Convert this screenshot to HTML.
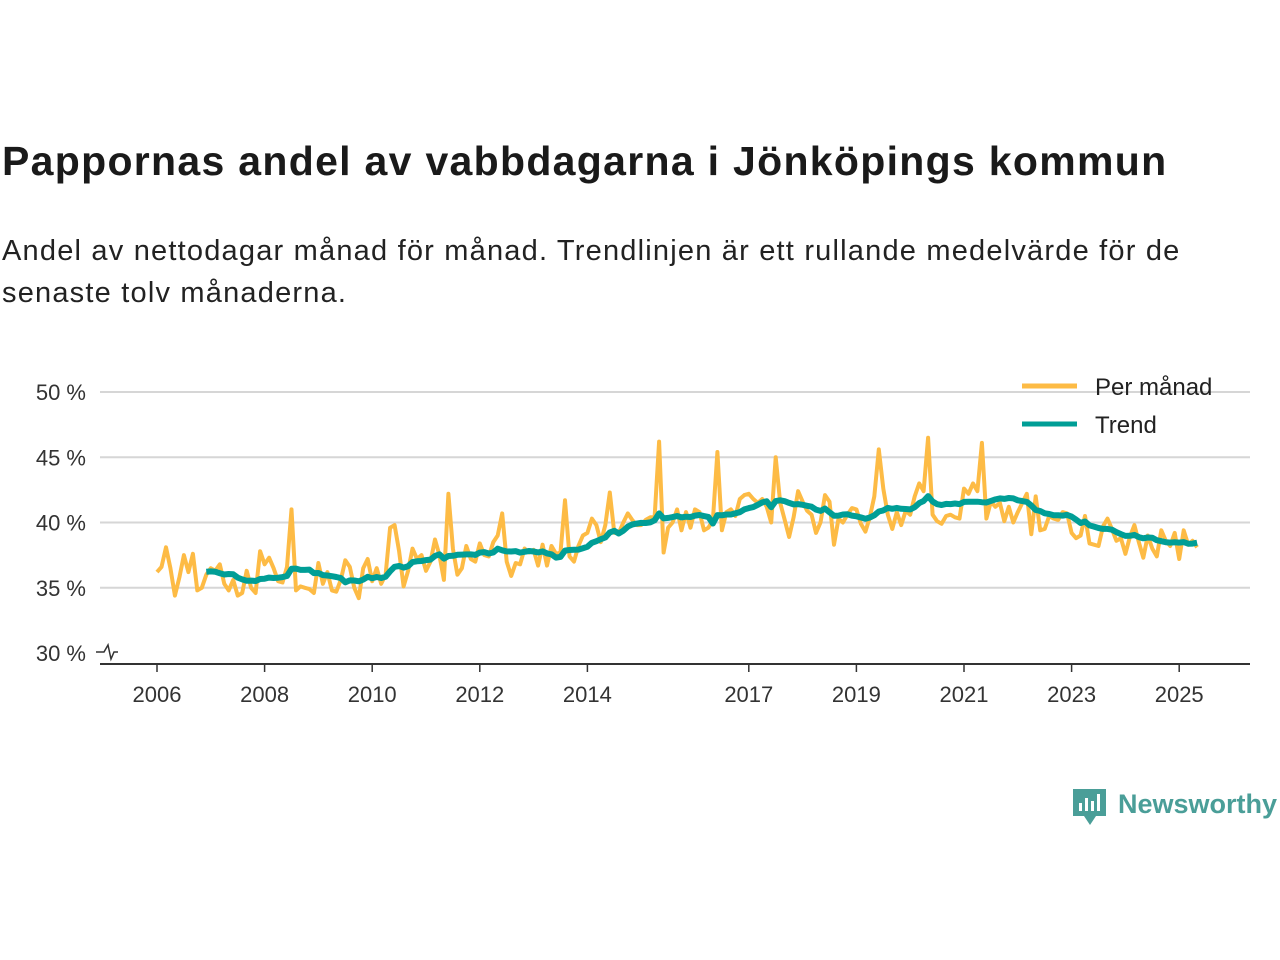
<!DOCTYPE html>
<html><head><meta charset="utf-8"><style>
body{margin:0;width:1280px;height:960px;background:#fff;font-family:"Liberation Sans",sans-serif;overflow:hidden;position:relative}
.t{position:absolute;left:2px;top:138px;font-size:41px;font-weight:bold;color:#1a1a1a;white-space:nowrap;letter-spacing:1.3px}
.s{position:absolute;left:2px;top:230px;font-size:29px;color:#222;line-height:42px;width:1250px;letter-spacing:1.2px}
</style></head><body>
<div class="t">Pappornas andel av vabbdagarna i Jönköpings kommun</div>
<div class="s">Andel av nettodagar månad för månad. Trendlinjen är ett rullande medelvärde för de senaste tolv månaderna.</div>
<svg id="c" width="1280" height="960" style="position:absolute;left:0;top:0"></svg>
<script>
const startYear=2006;
const monthly=[
36.2,36.6,38.1,36.5,34.4,35.8,37.5,36.2,37.6,34.8,35.0,36.0,
36.5,36.3,36.8,35.3,34.8,35.6,34.4,34.6,36.3,35.0,34.6,37.8,
36.8,37.3,36.5,35.5,35.4,36.6,41.0,34.8,35.1,35.0,34.9,34.6,
36.9,35.3,36.2,34.8,34.7,35.6,37.1,36.6,35.0,34.2,36.5,37.2,
35.5,36.5,35.3,36.0,39.6,39.8,37.8,35.1,36.3,38.0,37.2,37.5,
36.3,37.0,38.7,37.5,35.6,42.2,38.0,36.0,36.5,38.2,37.2,37.0,
38.4,37.5,37.4,38.5,39.0,40.7,37.0,35.9,36.9,36.8,38.0,37.7,
37.9,36.7,38.3,36.7,38.2,37.6,37.7,41.7,37.4,37.0,38.2,39.0,
39.2,40.3,39.8,38.5,39.8,42.3,39.2,39.2,40.0,40.7,40.2,39.8,
39.8,40.2,40.4,40.4,46.2,37.7,39.6,40.0,41.0,39.4,40.8,39.6,
41.0,40.8,39.4,39.6,40.2,45.4,39.4,40.8,41.0,40.5,41.8,42.1,
42.2,41.8,41.5,41.8,41.2,40.0,45.0,41.5,40.2,38.9,40.4,42.4,
41.6,40.9,40.6,39.2,40.0,42.1,41.6,38.3,40.3,40.0,40.6,41.1,
41.0,39.9,39.3,40.4,42.0,45.6,42.6,40.6,39.5,40.8,39.8,40.9,
40.6,42.0,43.0,42.4,46.5,40.6,40.1,39.9,40.5,40.6,40.4,40.3,
42.6,42.2,43.0,42.4,46.1,40.3,41.6,41.2,41.5,40.1,41.2,40.0,
40.8,41.5,42.2,39.1,42.0,39.4,39.5,40.5,40.3,40.2,40.8,40.7,
39.2,38.8,39.0,40.5,38.4,38.3,38.2,39.7,40.3,39.5,38.6,38.8,
37.6,38.9,39.8,38.5,37.3,39.0,38.0,37.4,39.4,38.6,38.2,39.2,
37.2,39.4,38.3,38.6,38.1];
const yTicks=[30,35,40,45,50];
const xTicks=[2006,2008,2010,2012,2014,2017,2019,2021,2023,2025];
const NS="http://www.w3.org/2000/svg",svg=document.getElementById('c');
const X=t=>157+(t-2006)*53.8, Y=v=>653-(v-30)*13.05;
function mk(tag,at,txt){const e=document.createElementNS(NS,tag);for(const k in at)e.setAttribute(k,at[k]);if(txt!=null)e.textContent=txt;svg.appendChild(e);return e;}
yTicks.forEach(v=>{
 if(v>30){const g=mk('line',{x1:100,x2:1250,y1:Y(v),y2:Y(v),stroke:'#d6d6d6','stroke-width':2});
 
 }
 const l=mk('text',{x:86,y:Y(v)+8,'text-anchor':'end','font-size':22,fill:'#333'},v+' %');
 
 
});
const ax=mk('line',{x1:100,x2:1250,y1:664,y2:664,stroke:'#333','stroke-width':2});


const zz=mk('path',{d:'M96,652 L104,652 L108,645 L111,659 L114,652 L118,652',fill:'none',stroke:'#333','stroke-width':1.5});


xTicks.forEach(yr=>{
 const tk=mk('line',{x1:X(yr),x2:X(yr),y1:664,y2:672,stroke:'#333','stroke-width':1.5});
 
 
 const l=mk('text',{x:X(yr),y:702,'text-anchor':'middle','font-size':22,fill:'#333'},String(yr));
 
 
});
const tOf=i=>startYear+i/12;
const mp=monthly.map((v,i)=>X(tOf(i)).toFixed(1)+','+Y(v).toFixed(1)).join(' ');
const ml=mk('polyline',{points:mp,fill:'none',stroke:'#fdbb45','stroke-width':4,'stroke-linejoin':'round'});


const tp=[];
for(let i=11;i<monthly.length;i++){let s=0;for(let j=i-11;j<=i;j++)s+=monthly[j];tp.push(X(tOf(i)).toFixed(1)+','+Y(s/12).toFixed(1));}
const tl=mk('polyline',{points:tp.join(' '),fill:'none',stroke:'#009e96','stroke-width':6,'stroke-linejoin':'round'});


[['Per månad','#fdbb45',386],['Trend','#009e96',424]].forEach(([n,c,y])=>{
 const g=mk('line',{x1:1022,x2:1077,y1:y,y2:y,stroke:c,'stroke-width':5});
 
 
 const t=mk('text',{x:1095,y:y+9,'font-size':24,fill:'#222'},n);
 
 
});
const lg=mk('g',{});


lg.innerHTML='<path d="M1073,789 h33 v27 h-10 l-6,9 l-6,-9 h-11 z" fill="#4a9e98"/><rect x="1079" y="803" width="3" height="8" fill="#fff"/><rect x="1085" y="798" width="3" height="13" fill="#fff"/><rect x="1091" y="801" width="3" height="10" fill="#fff"/><rect x="1097" y="794" width="3" height="17" fill="#fff"/><text x="1118" y="813" font-size="27" font-weight="bold" fill="#4a9e98">Newsworthy</text>';
</script>
</body></html>
